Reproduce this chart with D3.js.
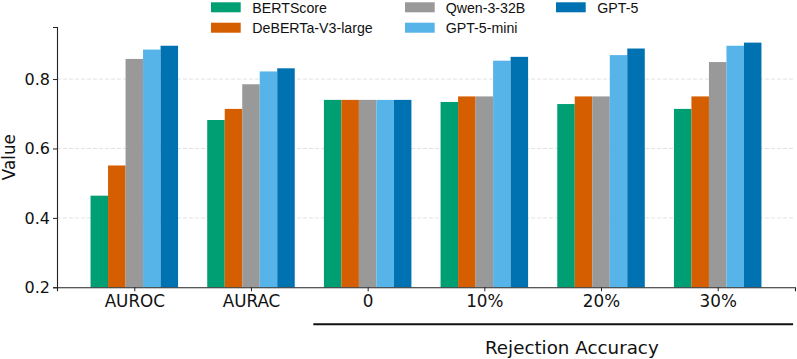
<!DOCTYPE html>
<html><head><meta charset="utf-8">
<script src="https://cdn.jsdelivr.net/npm/d3@7"></script>
<style>body{margin:0;background:#fff}svg{display:block}</style>
</head><body>
<svg id="c" width="797" height="359"></svg>
<script>
const categories = ["AUROC", "AURAC", "0", "10%", "20%", "30%"];
const seriesNames = ["BERTScore", "DeBERTa-V3-large", "Qwen-3-32B", "GPT-5-mini", "GPT-5"];
const colors = ["#009E73", "#D55E00", "#999999", "#56B4E9", "#0072B2"];
const bertscore = [0.464, 0.682, 0.740, 0.734, 0.728, 0.714];
const deberta   = [0.551, 0.714, 0.740, 0.750, 0.750, 0.750];
const qwen      = [0.858, 0.785, 0.740, 0.750, 0.750, 0.849];
const gpt5mini  = [0.885, 0.822, 0.740, 0.853, 0.869, 0.896];
const gpt5      = [0.896, 0.831, 0.740, 0.864, 0.888, 0.905];
const yTicks = [0.2, 0.4, 0.6, 0.8];
const groupLabel = "Rejection Accuracy";
const series = [bertscore, deberta, qwen, gpt5mini, gpt5];

(function () {
const svg = d3.select("#c");
const pL = 57, pR = 795, pT = 27, pB = 287.3;
const barW = 0.15;
const x = d3.scaleLinear().domain([-0.6625, 5.6625]).range([pL, pR]);
const y = d3.scaleLinear().domain([0.2, 0.95]).range([pB, pT]);

// grid
svg.append("g").selectAll("line").data(yTicks.slice(1)).join("line")
  .attr("x1", pL).attr("x2", pR)
  .attr("y1", d => y(d)).attr("y2", d => y(d))
  .attr("stroke", "#d9d9d9").attr("stroke-width", 0.8).attr("stroke-dasharray", "4,2");

// bars
series.forEach((vals, si) => {
  svg.append("g").selectAll("rect").data(vals).join("rect")
    .attr("x", (d, i) => x(i + (si - 2.5) * barW))
    .attr("width", x(barW) - x(0))
    .attr("y", d => y(d))
    .attr("height", d => y(0.2) - y(d))
    .attr("fill", colors[si]);
});

// y axis
const yAxis = d3.axisLeft(y).tickValues(yTicks).tickFormat(d3.format(".1f")).tickSizeOuter(0).tickSize(4).tickPadding(3);
const ya = svg.append("g").attr("transform", `translate(${pL},0)`).call(yAxis);
ya.select(".domain").attr("stroke", "#222").attr("stroke-width", 1.1);
ya.selectAll(".tick line").attr("stroke", "#222");
ya.selectAll("text").attr("font-family", "DejaVu Sans").attr("font-size", "16px").attr("fill", "#111");

// x axis
const xAxis = d3.axisBottom(x).tickValues(d3.range(categories.length)).tickFormat(i => categories[i]).tickSizeOuter(0).tickSize(4).tickPadding(4);
const xa = svg.append("g").attr("transform", `translate(0,${pB})`).call(xAxis);
xa.select(".domain").attr("stroke", "#222").attr("stroke-width", 1.1);
xa.selectAll(".tick line").attr("stroke", "#222");
xa.selectAll("text").attr("font-family", "DejaVu Sans").attr("font-size", "16.8px").attr("fill", "#111");

// y label
svg.append("text").attr("transform", `translate(15,${(pT + pB) / 2}) rotate(-90)`)
  .attr("text-anchor", "middle").attr("font-family", "DejaVu Sans").attr("font-size", "16.8px").attr("fill", "#111")
  .text("Value");

// group line + label
svg.append("line").attr("x1", x(1.534)).attr("x2", x(5.646)).attr("y1", 324.3).attr("y2", 324.3)
  .attr("stroke", "#111").attr("stroke-width", 2);
svg.append("text").attr("x", x(3.75)).attr("y", 353.5).attr("text-anchor", "middle")
  .attr("font-family", "DejaVu Sans").attr("font-size", "18.3px").attr("fill", "#111").text(groupLabel);

// legend
const legPatchX = [211, 405, 556];
const legTextX = [252.3, 445.7, 597.3];
const legRowY = [2.3, 22.7];
seriesNames.forEach((name, i) => {
  const col = Math.floor(i / 2), row = i % 2;
  svg.append("rect").attr("x", legPatchX[col]).attr("y", legRowY[row]).attr("width", 29.7).attr("height", 10).attr("fill", colors[i]);
  svg.append("text").attr("x", legTextX[col]).attr("y", legRowY[row] + 10.2)
    .attr("font-family", "Liberation Sans, Arial").attr("font-size", "14.2px").attr("fill", "#111").text(name);
});
})();
</script>
</body></html>
